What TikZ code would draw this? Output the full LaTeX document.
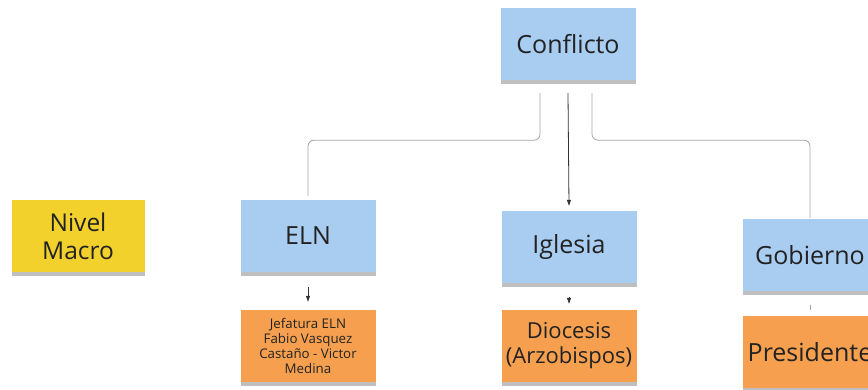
\documentclass[tikz,border=0pt]{standalone}
\usepackage{fontspec}
\setmainfont{Open Sans}
\usetikzlibrary{shadows}
\usetikzlibrary{arrows.meta}

\definecolor{notablue}{HTML}{A9CCF1}
\definecolor{notaorange}{HTML}{F6A04F}
\definecolor{notayellow}{HTML}{F3D12D}
\definecolor{inkgray}{HTML}{222222}

\begin{document}
\begin{tikzpicture}[x=1pt, y=-1pt,
  nota/.style={rectangle, minimum width=135pt, minimum height=72pt,
               inner sep=2pt, align=center, text=inkgray,
               drop shadow={shadow xshift=0pt, shadow yshift=-4pt,
                            opacity=0.25, fill=black}},
  actor/.style={nota, fill=notablue, font=\fontsize{25}{29}\selectfont},
  detalle/.style={nota, fill=notaorange},
  rama/.style={draw=gray!70, line width=0.8pt, rounded corners=6pt},
  flecha/.style={draw=black!80, line width=0.8pt, -{Triangle[length=6pt, width=4pt]}}]

  \useasboundingbox[fill=white] (0,0) rectangle (868,390);

  % nivel
  \node[nota, fill=notayellow, font=\fontsize{24.5}{28}\selectfont,
        minimum width=133pt] (nivel) at (78,236) {Nivel\\Macro};

  % actores
  \node[actor] (conflicto) at (568,44) {Conflicto};
  \node[actor] (eln)       at (308,236) {ELN};
  \node[actor] (iglesia)   at (569,247) {Iglesia};
  \node[actor] (gobierno)  at (810,255) {Gobierno};

  % detalle de cada actor
  \node[detalle, font=\fontsize{13.3}{15}\selectfont] (jefatura) at (308,346)
        {Jefatura ELN\\Fabio Vasquez\\Castaño - Victor\\Medina};
  \node[detalle, font=\fontsize{22}{25}\selectfont] (diocesis) at (569,346)
        {Diocesis\\(Arzobispos)};
  \node[detalle, font=\fontsize{25}{29}\selectfont] (presidente) at (810,352)
        {Presidente};

  % ramas desde el conflicto
  \coordinate (salidaI) at ([xshift=-28pt, yshift=-13pt]conflicto.south);
  \coordinate (salidaC) at ([yshift=-13pt]conflicto.south);
  \coordinate (salidaD) at ([xshift=24pt, yshift=-13pt]conflicto.south);

  \draw[rama] (salidaI) -- ++(0,47) -| ([yshift=4pt]eln.north);
  \draw[flecha] (salidaC) -- ([yshift=5pt]iglesia.north);
  \draw[rama] (salidaD) -- ++(0,47) -| ([yshift=1pt]gobierno.north);

  % hacia el detalle
  \draw[flecha, shorten <=15pt, shorten >=8pt] (eln.south) -- (jefatura.north);
  \draw[flecha, shorten <=14pt, shorten >=6pt] (iglesia.south) -- (diocesis.north);
  \draw[rama, shorten <=14pt, shorten >=6pt] (gobierno.south) -- (presidente.north);

\end{tikzpicture}
\end{document}
